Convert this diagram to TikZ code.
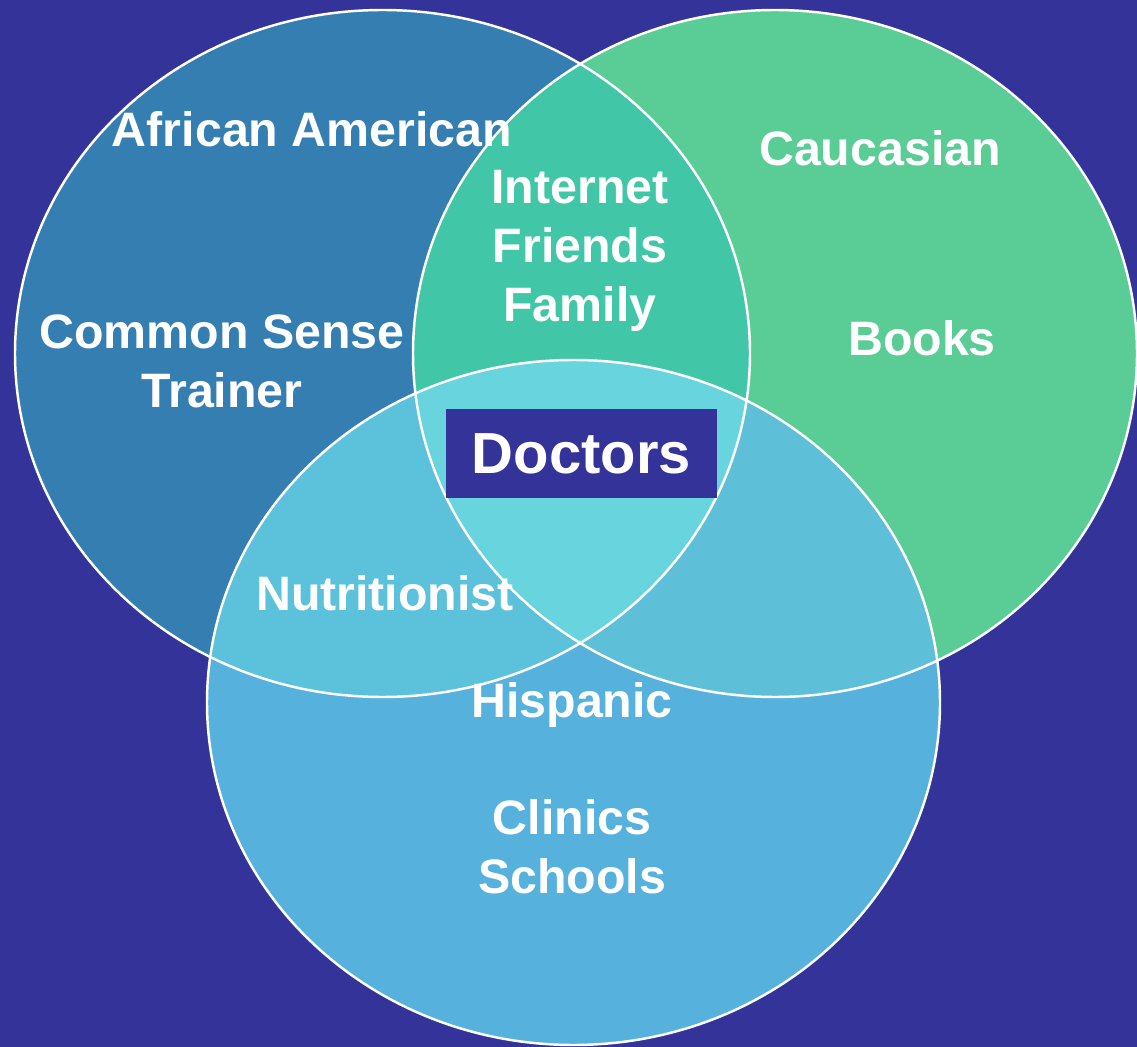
\documentclass[tikz,border=0pt]{standalone}
\usepackage{fontspec}
\setmainfont{Liberation Sans}
\usetikzlibrary{positioning}
\definecolor{navy}{RGB}{51,51,153}
\definecolor{leftc}{RGB}{52,126,178}
\definecolor{rightc}{RGB}{90,204,150}
\definecolor{midc}{RGB}{66,198,168}
\definecolor{botc}{RGB}{86,178,220}
\definecolor{lbc}{RGB}{92,194,220}
\definecolor{rbc}{RGB}{94,192,216}
\definecolor{ctrc}{RGB}{104,212,222}
\tikzstyle{grouptext}=[text=white,font=\bfseries\fontsize{27.5}{33.5}\selectfont,align=center,inner sep=0pt]
\tikzstyle{bigtext}=[fill=navy,text=white,font=\bfseries\fontsize{33}{38}\selectfont,minimum width=271*0.02cm,minimum height=89*0.02cm]
\tikzstyle{rim}=[draw=white,line width=1.4pt]

\begin{document}
\begin{tikzpicture}[x=0.02cm,y=-0.02cm]
    \fill[navy] (0,0) rectangle (1137,1047);
    \useasboundingbox (0,0) rectangle (1137,1047);

    \def\leftell{(382.5,353.5) ellipse (367.5 and 343.5)}
    \def\rightell{(775,353.5) ellipse (362 and 343.5)}
    \def\botell{(573.5,702.5) ellipse (366.5 and 342.5)}

    % the three groups
    \fill[leftc] \leftell;
    \fill[rightc] \rightell;
    \begin{scope}
        \clip \leftell;
        \fill[midc] \rightell;
    \end{scope}
    \fill[botc] \botell;
    \begin{scope}
        \clip \botell;
        \fill[lbc] \leftell;
        \fill[rbc] \rightell;
        \clip \leftell;
        \fill[ctrc] \rightell;
    \end{scope}
    \path[rim] \leftell;
    \path[rim] \rightell;
    \path[rim] \botell;

    % labels
    \foreach \name/\x/\y/\txt in {afram/312/129/African American, cauc/880/148/Caucasian,
        inet/580/251/{Internet\\Friends\\Family}, sense/222/361/{Common Sense\\Trainer},
        books/922/338/Books, nutri/385/593/Nutritionist, hisp/572/705/Hispanic,
        clinic/572/847/{Clinics\\Schools}}
        \node[grouptext] (\name) at (\x,\y) {\txt};

    \node[bigtext] (doc) at (581.5,453.5) {Doctors};
\end{tikzpicture}
\end{document}
